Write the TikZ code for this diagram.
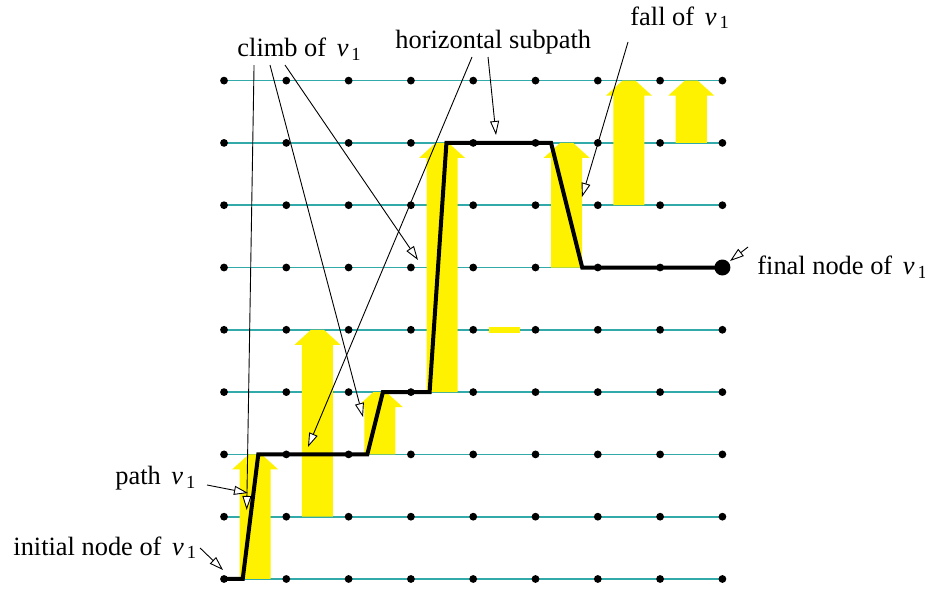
\documentclass[tikz,border=0pt]{standalone}
\usepackage{fontspec}
\setmainfont{Liberation Serif}
\usetikzlibrary{arrows.meta}
\definecolor{gridcyan}{RGB}{50,170,170}
\tikzset{
  dot/.style={circle,fill=black,inner sep=0pt,minimum size=3.9pt},
  bigdot/.style={circle,fill=black,inner sep=0pt,minimum size=8pt},
  note/.style={anchor=base west,inner sep=0pt,font=\fontsize{13.2}{16}\selectfont},
  pointer/.style={-{Triangle[open,fill=white,length=7pt,width=4.5pt]},line width=0.45pt},
  walk/.style={line width=2pt,line join=miter},
  rung/.style={gridcyan,line width=0.85pt},
}
% upward block arrow: x, bottom, top (grid units)
\newcommand{\risearrow}[3]{%
  \fill[yellow] ({#1-0.249},#2) -- ({#1+0.249},#2) -- ({#1+0.249},{#3-0.241})
    -- ({#1+0.369},{#3-0.241}) -- ({#1+0.104},#3) -- ({#1-0.104},#3)
    -- ({#1-0.369},{#3-0.241}) -- ({#1-0.249},{#3-0.241}) -- cycle;}
\newcommand{\vone}{\hspace{2pt}\textit{v}\hspace{1.5pt}\textsubscript{1}}
\begin{document}
\begin{tikzpicture}[x=31.15pt,y=31.15pt]
\useasboundingbox (-3.596,-0.177) rectangle (11.252,9.294);

% grid rows
\foreach \j in {0,...,8}
  \draw[rung] (0,\j) -- (8,\j);

% climbs and falls
\risearrow{0.5}{0}{2}
\risearrow{1.5}{1}{4}
\risearrow{2.5}{2}{3}
\risearrow{3.5}{3}{7}
\risearrow{5.5}{5}{7}
\risearrow{6.5}{6}{8}
\risearrow{7.5}{7}{8}
\fill[yellow] (4.25,3.95) rectangle (4.75,4.05);

% the path v_1
\draw[walk] (0,0) -- (0.3,0) -- (0.55,2) -- (2.3,2) -- (2.55,3) -- (3.3,3)
  -- (3.57,7) -- (5.25,7) -- (5.75,5) -- (8,5);

% grid nodes
\foreach \i in {0,...,8}
  \foreach \j in {0,...,8}
    \node[dot] (p\i\j) at (\i,\j) {};
\node[bigdot] (final) at (8,5) {};

% labels
\node[note] (climb) at (0.209,8.379) {climb of \vone};
\node[note] (horiz) at (2.745,8.523) {horizontal subpath};
\node[note] (fall) at (6.517,8.892) {fall of \vone};
\node[note] (fin) at (8.555,4.880) {final node of \vone};
\node[note] (pathv) at (-1.750,1.509) {path \vone};
\node[note] (init) at (-3.387,0.385) {initial node of \vone};

\coordinate (c1) at (0.482,8.250);
\coordinate (c2) at (0.738,8.250);
\coordinate (c3) at (0.979,8.250);
\coordinate (h1) at (3.981,8.379);
\coordinate (h2) at (4.238,8.379);
\coordinate (f1) at (6.485,8.620);
\coordinate (n1) at (8.411,5.329);
\coordinate (q1) at (-0.273,1.509);
\coordinate (i1) at (-0.385,0.498);

\coordinate (tc1) at (0.364,1.108);
\coordinate (tc2) at (2.231,2.600);
\coordinate (tc3) at (3.114,5.120);
\coordinate (th1) at (1.348,2.119);
\coordinate (th2) at (4.366,7.127);
\coordinate (tf) at (5.746,6.132);
\coordinate (tn) at (8.122,5.104);
\coordinate (tq) at (0.385,1.380);
\coordinate (ti) at (-0.016,0.144);

\draw[pointer] (c1) -- (tc1);
\draw[pointer] (c2) -- (tc2);
\draw[pointer] (c3) -- (tc3);
\draw[pointer] (h1) -- (th1);
\draw[pointer] (h2) -- (th2);
\draw[pointer] (f1) -- (tf);
\draw[pointer] (n1) -- (tn);
\draw[pointer] (q1) -- (tq);
\draw[pointer] (i1) -- (ti);
\end{tikzpicture}
\end{document}
